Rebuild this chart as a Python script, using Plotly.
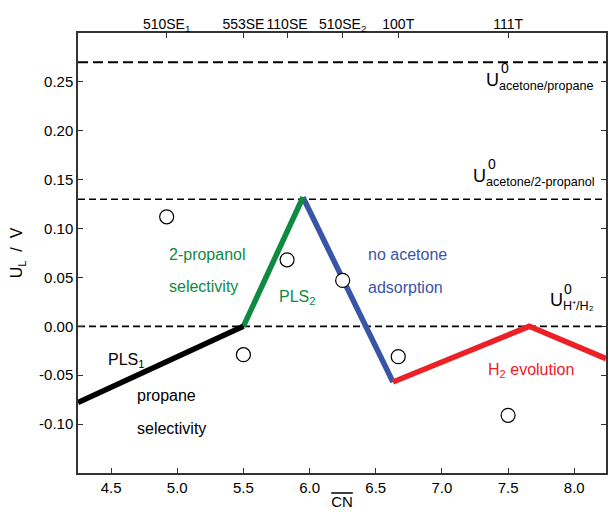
import plotly.graph_objects as go

# ---------------- data ----------------
x_range = [4.25, 8.24]
y_range = [-0.15, 0.30]

black_cn = [4.25, 5.50]
black_ul = [-0.078, 0.0]
green_cn = [5.50, 5.95]
green_ul = [0.0, 0.132]
blue_cn = [5.95, 6.63]
blue_ul = [0.132, -0.057]
red_cn = [6.63, 7.66, 8.24]
red_ul = [-0.057, 0.0, -0.033]

facet_cn = [4.92, 5.50, 5.83, 6.25, 6.67, 7.50]
facet_ul = [0.112, -0.029, 0.068, 0.047, -0.031, -0.091]
facet_labels = ["510SE<sub>1</sub>", "553SE", "110SE", "510SE<sub>2</sub>", "100T", "111T"]

ref_levels = [0.27, 0.13, 0.00]
ref_dash = ["10px,5px", "7px,4px", "7px,4px"]
ref_width = [2.0, 1.6, 1.6]

x_ticks = [4.5, 5.0, 5.5, 6.0, 6.5, 7.0, 7.5, 8.0]
y_ticks = [-0.10, -0.05, 0.00, 0.05, 0.10, 0.15, 0.20, 0.25]

BLACK = "#000000"
GREEN = "#0f8a41"
BLUE = "#3a54a6"
RED = "#ec2127"
FONT = "Liberation Sans, Arial, Helvetica, sans-serif"

fig = go.Figure()

for lvl, d, w in zip(ref_levels, ref_dash, ref_width):
    fig.add_trace(go.Scatter(x=x_range, y=[lvl, lvl], mode="lines",
                             line=dict(color="black", width=w, dash=d),
                             hoverinfo="skip", showlegend=False))

for xs, ys, c in [(blue_cn, blue_ul, BLUE), (green_cn, green_ul, GREEN),
                  (black_cn, black_ul, BLACK), (red_cn, red_ul, RED)]:
    fig.add_trace(go.Scatter(x=xs, y=ys, mode="lines",
                             line=dict(color=c, width=5.5),
                             showlegend=False))

fig.add_trace(go.Scatter(x=facet_cn, y=facet_ul, mode="markers",
                         marker=dict(size=14, color="white",
                                     line=dict(color="black", width=1.2)),
                         showlegend=False))

# invisible trace to activate the top axis
fig.add_trace(go.Scatter(x=facet_cn, y=[None] * len(facet_cn), xaxis="x2",
                         mode="markers", showlegend=False, hoverinfo="skip"))

ann = []
def txt(x, y, t, color="black", size=16, xanchor="left", yanchor="middle"):
    ann.append(dict(x=x, y=y, xref="x", yref="y", text=t, showarrow=False,
                    xanchor=xanchor, yanchor=yanchor,
                    font=dict(family=FONT, size=size, color=color)))

# reference potential labels
txt(7.315, 0.250, "U<sub>acetone/propane</sub>", size=18)
txt(7.43, 0.264, "0", size=14)
txt(7.222, 0.152, "U<sub>acetone/2-propanol</sub>", size=18)
txt(7.335, 0.166, "0", size=14)
txt(7.80, 0.025, "U<sub>H⁺/H₂</sub>", size=18)
txt(7.905, 0.038, "0", size=14)

txt(4.92, 0.0737, "2-propanol", GREEN)
txt(4.92, 0.041, "selectivity", GREEN)
txt(5.755, 0.030, "PLS<sub>2</sub>", GREEN)
txt(6.43, 0.0737, "no acetone", BLUE)
txt(6.43, 0.040, "adsorption", BLUE)
txt(7.33, -0.045, "H<sub>2</sub> evolution", RED)
txt(4.465, -0.035, "PLS<sub>1</sub>", BLACK)
txt(4.68, -0.0705, "propane", BLACK)
txt(4.68, -0.104, "selectivity", BLACK)

fig.update_layout(
    width=610, height=512,
    margin=dict(l=78, r=2, t=33, b=39),
    paper_bgcolor="white", plot_bgcolor="white",
    font=dict(family=FONT, size=15, color="black"),
    annotations=ann,
    xaxis=dict(range=x_range, tickvals=x_ticks,
               ticktext=[f"{v:.1f}" for v in x_ticks],
               ticks="inside", ticklen=5, tickwidth=1.2, tickcolor="#333",
               showline=True, linecolor="#333", linewidth=1.5, mirror=True,
               showgrid=False, zeroline=False,
               tickfont=dict(size=15),
               title=dict(text="<span style='text-decoration:overline'>CN</span>",
                          font=dict(size=15), standoff=2)),
    xaxis2=dict(range=x_range, overlaying="x", side="top",
                tickvals=facet_cn, ticktext=facet_labels,
                ticks="inside", ticklen=5, tickwidth=1.2, tickcolor="#333",
                showline=False, showgrid=False, zeroline=False,
                tickfont=dict(size=14)),
    yaxis=dict(range=y_range, tickvals=y_ticks,
               ticktext=[f"{v:.2f}" for v in y_ticks],
               ticks="inside", ticklen=5, tickwidth=1.2, tickcolor="#333",
               showline=True, linecolor="#333", linewidth=1.5, mirror="ticks",
               showgrid=False, zeroline=False,
               tickfont=dict(size=15),
               title=dict(text="U<sub>L</sub>  /  V", font=dict(size=16), standoff=12)),
)

fig.write_html("out.html")
